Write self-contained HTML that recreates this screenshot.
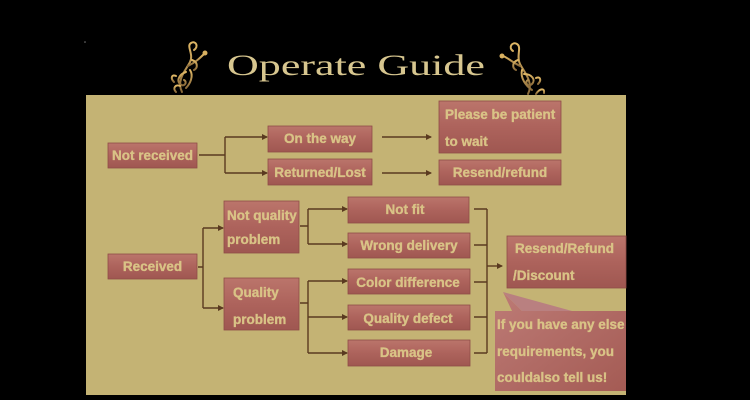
<!DOCTYPE html>
<html><head><meta charset="utf-8"><style>
html,body{margin:0;padding:0;background:#000;}
svg{display:block;}
.t{font-family:"Liberation Sans",Arial,sans-serif;font-weight:bold;font-size:13.5px;fill:#d9c386;stroke:#d9c386;stroke-width:0.35px;}
</style></head><body>
<svg width="750" height="400" viewBox="0 0 750 400" xmlns="http://www.w3.org/2000/svg">
<defs>
<linearGradient id="bx" x1="0" y1="0" x2="0" y2="1">
<stop offset="0" stop-color="#bb756b"/>
<stop offset="0.5" stop-color="#ad635c"/>
<stop offset="1" stop-color="#9f5751"/>
</linearGradient>
<linearGradient id="cl" x1="0" y1="0" x2="1" y2="1">
<stop offset="0" stop-color="#bd7b76"/>
<stop offset="1" stop-color="#a45b54"/>
</linearGradient>
<linearGradient id="gold" x1="0" y1="0" x2="0" y2="1">
<stop offset="0" stop-color="#e0b866"/>
<stop offset="1" stop-color="#8a6a3a"/>
</linearGradient>
<marker id="ar" markerWidth="6" markerHeight="6" refX="5" refY="3" orient="auto" markerUnits="userSpaceOnUse">
<path d="M0,0 L6,3 L0,6 z" fill="#5a3a20"/>
</marker>
</defs>
<rect width="750" height="400" fill="#000"/>
<circle cx="85" cy="42" r="0.8" fill="#777"/>

<!-- ornaments -->
<g fill="none" stroke="url(#gold)" stroke-width="2" stroke-linecap="round">
<path d="M182,92 C176,80 186,70 190,62 C194,54 186,46 191,43 C196,40 199,47 194,50"/>
<path d="M188,66 C196,62 200,58 204,54"/>
<path d="M186,72 C180,74 176,80 180,84 C184,88 188,82 184,80"/>
<path d="M190,70 C194,76 190,84 186,88"/>
<path d="M176,92 C172,88 176,84 180,86"/>
<path d="M192,60 C198,62 198,68 194,70"/>
<path d="M174,82 C170,78 172,74 176,76"/>
<path d="M528,94 C534,82 524,72 520,64 C516,56 522,47 517,44 C512,41 508,48 513,51"/>
<path d="M520,66 C512,62 508,58 503,56"/>
<path d="M524,74 C532,74 536,80 532,84 C528,88 524,82 528,80"/>
<path d="M522,70 C520,78 526,86 532,90"/>
<path d="M536,94 C540,88 545,88 544,93"/>
<path d="M518,60 C512,62 512,68 516,70"/>
<path d="M538,84 C542,80 540,76 536,78"/>
</g>
<circle cx="205" cy="53" r="2.5" fill="#d8b060"/>
<circle cx="502" cy="56" r="2.5" fill="#d8b060"/>

<!-- title -->
<text x="227" y="75" textLength="258" lengthAdjust="spacingAndGlyphs" font-family="'Liberation Serif',serif" font-size="30" fill="#d7c68f">Operate Guide</text>

<!-- panel -->
<rect x="86" y="95" width="540" height="300" fill="#c4b374"/>

<!-- connectors -->
<g stroke="#5a3a20" stroke-width="1.4" fill="none">
<path d="M199,155 H225 M225,137 V173"/>
<path d="M225,137 H267" marker-end="url(#ar)"/>
<path d="M225,173 H267" marker-end="url(#ar)"/>
<path d="M382,137 H431" marker-end="url(#ar)"/>
<path d="M382,173 H431" marker-end="url(#ar)"/>
<path d="M198,267 H203 M203,228 V308"/>
<path d="M203,228 H223" marker-end="url(#ar)"/>
<path d="M203,308 H223" marker-end="url(#ar)"/>
<path d="M300,226 H308 M308,209 V244"/>
<path d="M308,209 H347" marker-end="url(#ar)"/>
<path d="M308,244 H347" marker-end="url(#ar)"/>
<path d="M300,303 H308 M308,281 V353"/>
<path d="M308,281 H347" marker-end="url(#ar)"/>
<path d="M308,317 H347" marker-end="url(#ar)"/>
<path d="M308,353 H347" marker-end="url(#ar)"/>
<path d="M474,209 H487 M474,245 H487 M474,282 H487 M474,317 H487 M474,353 H487 M487,209 V353"/>
<path d="M487,266 H502" marker-end="url(#ar)"/>
</g>

<!-- boxes -->
<g fill="url(#bx)" stroke="#8f4d47" stroke-width="0.8">
<rect x="108" y="143" width="89" height="25"/>
<rect x="268" y="126" width="104" height="26"/>
<rect x="268" y="159" width="104" height="26"/>
<rect x="439" y="101" width="122" height="52"/>
<rect x="439" y="160" width="122" height="25"/>
<rect x="224" y="201" width="75" height="52"/>
<rect x="108" y="254" width="89" height="25"/>
<rect x="224" y="278" width="75" height="52"/>
<rect x="348" y="197" width="121" height="26"/>
<rect x="348" y="233" width="122" height="25"/>
<rect x="348" y="269" width="122" height="25"/>
<rect x="348" y="305" width="122" height="25"/>
<rect x="348" y="340" width="122" height="26"/>
<rect x="507" y="236" width="119" height="52"/>
</g>
<path d="M503,292 L522,311 L626,311 L626,391 L495,391 L495,311 L512,311 Z" fill="url(#cl)"/>
<path d="M503,292 L522,311 L572,311 Z" fill="#b98080"/>

<!-- labels -->
<g class="t">
<text x="152.5" y="160" text-anchor="middle">Not received</text>
<text x="320" y="143" text-anchor="middle">On the way</text>
<text x="320" y="177" text-anchor="middle">Returned/Lost</text>
<text x="445" y="119">Please be patient</text>
<text x="445" y="146">to wait</text>
<text x="500" y="177" text-anchor="middle">Resend/refund</text>
<text x="227" y="220">Not quality</text>
<text x="227" y="244">problem</text>
<text x="152.5" y="271" text-anchor="middle">Received</text>
<text x="233" y="297">Quality</text>
<text x="233" y="324">problem</text>
<text x="405" y="214" text-anchor="middle">Not fit</text>
<text x="409" y="250" text-anchor="middle">Wrong delivery</text>
<text x="408" y="287" text-anchor="middle">Color difference</text>
<text x="408" y="323" text-anchor="middle">Quality defect</text>
<text x="406" y="357" text-anchor="middle">Damage</text>
<text x="515" y="253">Resend/Refund</text>
<text x="513" y="280">/Discount</text>
<text x="497" y="329">If you have any else</text>
<text x="497" y="356">requirements, you</text>
<text x="497" y="382">couldalso tell us!</text>
</g>
</svg>
</body></html>
